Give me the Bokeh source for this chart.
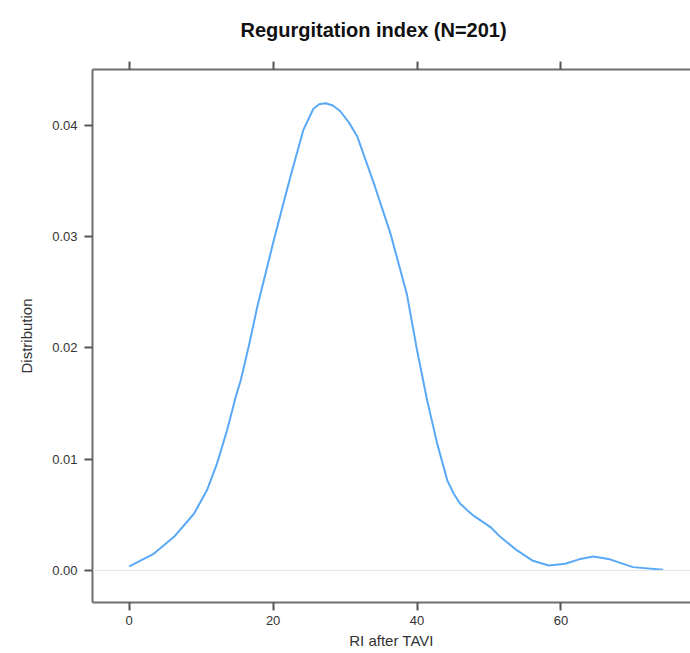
from bokeh.plotting import figure
from bokeh.models import LinearAxis, FixedTicker, Span, Range1d, PrintfTickFormatter
from bokeh.embed import file_html
from bokeh.resources import INLINE

# Density curve
ri_x = [0, 3.4, 6.2, 9.0, 10.8, 12.2, 13.6, 14.8, 15.5, 16.6, 17.8, 20.1, 22.4, 24.2,
        25.6, 26.4, 27.3, 28.3, 29.3, 30.5, 31.7, 34.0, 36.3, 38.6, 40.0, 41.4, 42.8,
        44.2, 45.1, 46.0, 47.0, 47.9, 50.2, 51.6, 53.9, 56.0, 58.3, 60.6, 62.5, 64.5,
        66.8, 70.0, 74.2]
density = [0.00036, 0.0015, 0.0030, 0.0051, 0.0072, 0.0096, 0.0126, 0.0156, 0.0171,
           0.0201, 0.0237, 0.0297, 0.0354, 0.0396, 0.0415, 0.0419, 0.0420, 0.0418,
           0.0413, 0.0403, 0.0390, 0.0348, 0.0303, 0.0248, 0.0198, 0.0153, 0.0114,
           0.0081, 0.0069, 0.0060, 0.0054, 0.0049, 0.0039, 0.0030, 0.0018, 0.0009,
           0.00045, 0.0006, 0.0010, 0.00126, 0.0010, 0.0003, 0.00006]
x_ticks = [0, 20, 40, 60]
y_ticks = [0.00, 0.01, 0.02, 0.03, 0.04]

FONT = "Liberation Sans"
AX = "#6e6e6e"
TXT = "#333333"

p = figure(width=690, height=653, output_backend="svg", toolbar_location=None,
           x_range=Range1d(-5.1, 78.0), y_range=Range1d(-0.00288, 0.04503),
           x_axis_location=None, y_axis_location=None,
           min_border_left=92, min_border_right=0, min_border_top=69, min_border_bottom=51)
p.grid.visible = False
p.outline_line_color = None
p.background_fill_color = "white"
p.border_fill_color = "white"

p.title.text = "Regurgitation index (N=201)"
p.title.text_font = FONT
p.title.text_font_size = "20px"
p.title.text_font_style = "bold"
p.title.text_color = "#111111"
p.title.align = "left"
p.title.offset = 148
p.title.standoff = 37
p.title.vertical_align = "top"

def style(ax):
    ax.axis_line_color = AX
    ax.axis_line_width = 2
    ax.major_tick_line_color = "#555555"
    ax.major_tick_line_width = 2
    ax.major_tick_out = 8
    ax.major_tick_in = 0
    ax.minor_tick_line_color = None
    ax.major_label_text_font = FONT
    ax.major_label_text_font_size = "13px"
    ax.major_label_text_color = TXT
    ax.major_label_standoff = 7
    ax.axis_label_text_font = FONT
    ax.axis_label_text_font_size = "15px"
    ax.axis_label_text_font_style = "normal"
    ax.axis_label_text_color = TXT

left = LinearAxis(ticker=FixedTicker(ticks=y_ticks), formatter=PrintfTickFormatter(format="%.2f"),
                  axis_label="Distribution")
style(left)
left.axis_label_standoff = 14
p.add_layout(left, "left")

bottom = LinearAxis(ticker=FixedTicker(ticks=x_ticks), axis_label="RI after TAVI")
style(bottom)
bottom.major_label_standoff = 5
bottom.axis_label_standoff = 4
p.add_layout(bottom, "below")

top = LinearAxis(ticker=FixedTicker(ticks=x_ticks),
                 major_label_overrides={t: "" for t in x_ticks})
style(top)
top.major_label_standoff = 0
p.add_layout(top, "above")

p.add_layout(Span(location=0, dimension="width", line_color="#e8e8e8", line_width=1))
p.line(ri_x, density, line_color="#5aa9f7", line_width=2, line_join="round")

open("out.html", "w").write(file_html(p, INLINE))
